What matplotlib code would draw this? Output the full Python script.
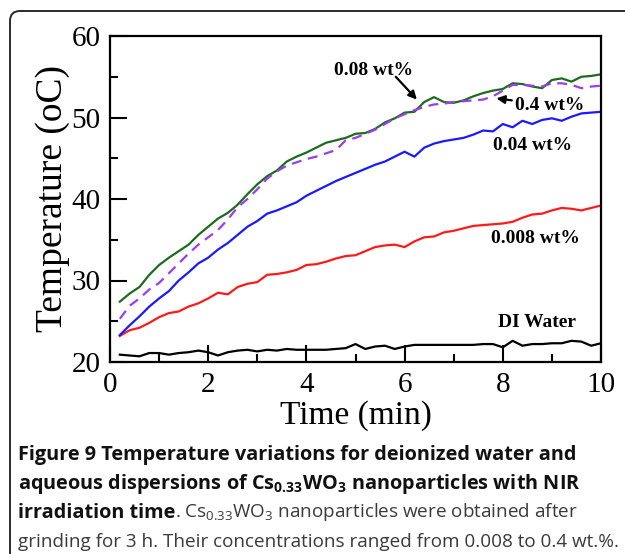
import numpy as np
import matplotlib
matplotlib.use("Agg")
import matplotlib.pyplot as plt
from matplotlib.patches import FancyBboxPatch
from matplotlib.transforms import IdentityTransform
from matplotlib.ticker import MultipleLocator

# time grid (min) and temperatures (oC) for each sample
time = np.arange(0.2, 10.01, 0.2)

di_water = [20.9, 20.8, 20.7, 21.1, 21.1, 20.9, 21.1, 21.2, 21.4, 21.2,
            20.8, 21.2, 21.4, 21.5, 21.3, 21.5, 21.4, 21.6, 21.5, 21.5,
            21.5, 21.5, 21.6, 21.7, 22.2, 21.6, 21.9, 22.0, 21.6, 21.9,
            22.1, 22.1, 22.1, 22.1, 22.1, 22.1, 22.1, 22.2, 22.2, 21.8,
            22.6, 22.0, 22.2, 22.2, 22.3, 22.3, 22.6, 22.5, 22.0, 22.3]

wt0008 = [23.2, 23.9, 24.2, 24.8, 25.5, 26.0, 26.2, 26.8, 27.2, 27.8,
          28.5, 28.3, 29.2, 29.6, 29.8, 30.7, 30.8, 31.0, 31.3, 31.9,
          32.0, 32.3, 32.7, 33.0, 33.1, 33.6, 34.1, 34.3, 34.4, 34.1,
          34.8, 35.3, 35.4, 35.9, 36.1, 36.4, 36.7, 36.8, 36.9, 37.0,
          37.2, 37.7, 38.1, 38.2, 38.6, 38.9, 38.8, 38.6, 38.9, 39.2]

wt004 = [23.3, 24.5, 25.6, 26.8, 27.8, 28.7, 30.0, 31.0, 32.1, 32.8,
         33.8, 34.6, 35.6, 36.6, 37.3, 38.2, 38.6, 39.1, 39.6, 40.4,
         41.0, 41.6, 42.2, 42.7, 43.2, 43.7, 44.2, 44.6, 45.2, 45.8,
         45.2, 46.3, 46.8, 47.1, 47.3, 47.5, 47.9, 48.4, 48.3, 49.2,
         48.8, 49.6, 49.2, 49.7, 49.9, 49.6, 50.1, 50.5, 50.6, 50.7]

wt008 = [27.4, 28.4, 29.2, 30.7, 31.9, 32.8, 33.6, 34.4, 35.6, 36.6,
         37.6, 38.3, 39.3, 40.6, 41.8, 42.8, 43.5, 44.6, 45.2, 45.7,
         46.3, 46.9, 47.2, 47.5, 48.0, 48.1, 48.6, 49.4, 49.9, 50.6,
         50.7, 51.9, 52.5, 51.9, 51.8, 52.1, 52.6, 53.0, 53.3, 53.5,
         54.2, 54.1, 53.8, 53.6, 54.6, 54.8, 54.4, 55.0, 55.1, 55.3]

wt04 = [25.3, 26.9, 27.8, 28.9, 29.7, 30.9, 32.1, 33.3, 34.4, 35.3,
        36.2, 37.5, 39.0, 40.0, 41.2, 42.5, 43.4, 44.1, 44.5, 44.9,
        45.2, 45.6, 46.0, 47.2, 47.5, 48.0, 48.5, 49.2, 49.9, 50.4,
        50.9, 51.3, 51.6, 51.7, 51.9, 52.0, 52.1, 52.2, 52.6, 53.3,
        54.0, 54.0, 53.9, 53.8, 54.2, 54.2, 54.0, 53.6, 53.8, 53.9]

serif = "Liberation Serif"
plt.rcParams["mathtext.fontset"] = "custom"
plt.rcParams["mathtext.rm"] = "Open Sans"
plt.rcParams["mathtext.it"] = "Open Sans:italic"
plt.rcParams["mathtext.bf"] = "Open Sans:bold"

fig = plt.figure(figsize=(6.25, 5.54), dpi=100)

# rounded frame around figure + caption
frame = FancyBboxPatch((10, -30), 660, 554 - 11 + 30,
                       boxstyle="round,pad=0,rounding_size=10",
                       transform=IdentityTransform(), fill=False,
                       edgecolor="#2a2a2a", linewidth=1.4)
fig.patches.append(frame)

ax = fig.add_axes([110 / 625, 1 - 362 / 554, 491 / 625, 326 / 554])

lw = 1.6
ax.plot(time, di_water, color="black", lw=lw)
ax.plot(time, wt0008, color="#ff1a1a", lw=lw)
ax.plot(time, wt004, color="#1a1aff", lw=lw)
ax.plot(time, wt008, color="#1e6b1e", lw=lw)
ax.plot(time, wt04, color="#9a3df0", lw=lw, dashes=(4.5, 3))

ax.set_xlim(0, 10)
ax.set_ylim(20, 60)
ax.xaxis.set_major_locator(MultipleLocator(2))
ax.xaxis.set_minor_locator(MultipleLocator(1))
ax.yaxis.set_major_locator(MultipleLocator(10))
ax.yaxis.set_minor_locator(MultipleLocator(5))
ax.tick_params(which="both", direction="in", top=False, right=False,
               width=1.5, labelsize=21, pad=7)
ax.tick_params(which="major", length=12)
ax.tick_params(which="minor", length=6)
for lab in ax.get_xticklabels() + ax.get_yticklabels():
    lab.set_family(serif)
for sp in ax.spines.values():
    sp.set_linewidth(1.6)

ax.set_xlabel("Time (min)", family=serif, fontsize=24, labelpad=2)
ax.set_ylabel("Temperature (oC)", family=serif, fontsize=27, labelpad=1)

ann = dict(family=serif, fontsize=14, fontweight="bold")
arrow = dict(arrowstyle="-|>", color="black", lw=1.6,
             mutation_scale=12, shrinkA=0, shrinkB=0)
ax.text(5.37, 55.8, "0.08 wt%", ha="center", va="center", **ann)
ax.annotate("", xy=(6.25, 52.2), xytext=(5.82, 55.0), arrowprops=arrow)
ax.annotate("0.4 wt%", xy=(7.87, 52.35), xytext=(8.24, 51.5),
            ha="left", va="center", arrowprops=arrow, **ann)
ax.text(8.6, 46.6, "0.04 wt%", ha="center", va="center", **ann)
ax.text(8.67, 35.2, "0.008 wt%", ha="center", va="center", **ann)
ax.text(8.7, 24.9, "DI Water", ha="center", va="center", **ann)

# caption
bold = dict(family="Open Sans", fontsize=14.3, fontweight="bold",
            color="#111111", va="baseline")
reg = dict(family="Open Sans", fontsize=13.6, color="#3a3a3a",
           va="baseline")
x0 = 18 / 625
fig.text(x0, 1 - 460 / 554,
         "Figure 9 Temperature variations for deionized water and", **bold)
fig.text(x0, 1 - 489 / 554,
         r"aqueous dispersions of Cs$_{\mathbf{0.33}}$WO$_{\mathbf{3}}$ nanoparticles with NIR",
         **bold)
t3 = fig.text(x0, 1 - 518 / 554, "irradiation time", **bold)
ax.annotate(r". Cs$_{0.33}$WO$_{3}$ nanoparticles were obtained after",
            xy=(1, 0), xycoords=t3, ha="left", va="bottom",
            family="Open Sans", fontsize=13.6, color="#3a3a3a",
            annotation_clip=False)
fig.text(x0, 1 - 547 / 554,
         "grinding for 3 h. Their concentrations ranged from 0.008 to 0.4 wt.%.",
         **reg)

fig.savefig("out.png", dpi=100)
